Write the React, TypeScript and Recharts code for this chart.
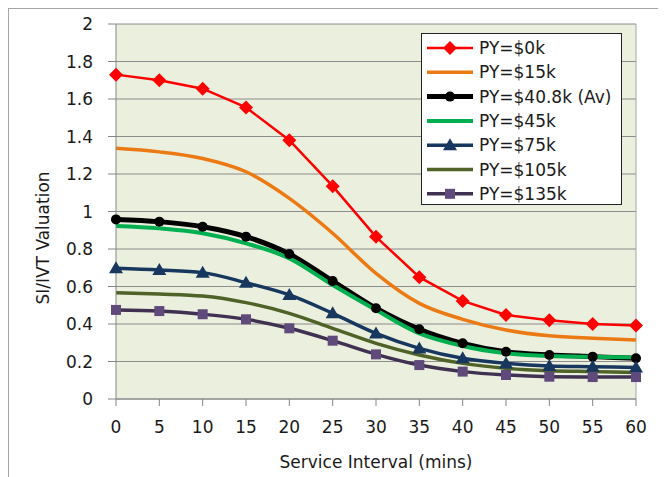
import React from 'react';
import { LineChart, Line, XAxis, YAxis, CartesianGrid, Legend, ReferenceLine, Label } from 'recharts';

const INTERVALS = [0, 5, 10, 15, 20, 25, 30, 35, 40, 45, 50, 55, 60];
const Y_TICKS = [0, 0.2, 0.4, 0.6, 0.8, 1, 1.2, 1.4, 1.6, 1.8, 2];

const py0 = [1.73, 1.70, 1.655, 1.555, 1.38, 1.135, 0.865, 0.65, 0.523, 0.448, 0.42, 0.40, 0.392];
const py15 = [1.337, 1.318, 1.283, 1.212, 1.07, 0.884, 0.67, 0.51, 0.425, 0.368, 0.337, 0.324, 0.315];
const py408 = [0.958, 0.946, 0.919, 0.866, 0.773, 0.629, 0.484, 0.372, 0.297, 0.252, 0.235, 0.226, 0.217];
const py45 = [0.923, 0.91, 0.884, 0.83, 0.75, 0.608, 0.475, 0.35, 0.283, 0.244, 0.229, 0.225, 0.222];
const py75 = [0.697, 0.688, 0.674, 0.62, 0.555, 0.457, 0.35, 0.27, 0.217, 0.19, 0.176, 0.172, 0.168];
const py105 = [0.567, 0.56, 0.549, 0.514, 0.457, 0.377, 0.297, 0.235, 0.19, 0.164, 0.151, 0.146, 0.141];
const py135 = [0.475, 0.469, 0.452, 0.425, 0.377, 0.311, 0.238, 0.181, 0.146, 0.128, 0.119, 0.117, 0.117];

const SERIES_NAMES = ['PY=$0k', 'PY=$15k', 'PY=$40.8k (Av)', 'PY=$45k', 'PY=$75k', 'PY=$105k', 'PY=$135k'];
const SERIES_VALUES = [py0, py15, py408, py45, py75, py105, py135];

type Marker = 'diamond' | 'none' | 'circle' | 'triangle' | 'square';
const STYLES: { color: string; width: number; marker: Marker; markerFill: string; curve: 'linear' | 'monotone' }[] = [
  { color: '#ff0000', width: 2.5, marker: 'diamond', markerFill: '#ff0000', curve: 'linear' },
  { color: '#ec7a14', width: 3.5, marker: 'none', markerFill: '#ec7a14', curve: 'monotone' },
  { color: '#000000', width: 5, marker: 'circle', markerFill: '#000000', curve: 'monotone' },
  { color: '#00b050', width: 4, marker: 'none', markerFill: '#00b050', curve: 'monotone' },
  { color: '#17375e', width: 3.5, marker: 'triangle', markerFill: '#17375e', curve: 'monotone' },
  { color: '#4f6228', width: 3.5, marker: 'none', markerFill: '#4f6228', curve: 'monotone' },
  { color: '#403152', width: 3.5, marker: 'square', markerFill: '#604a7b', curve: 'monotone' },
];

const data = INTERVALS.map((x, i) => {
  const row: Record<string, number> = { x };
  SERIES_VALUES.forEach((vals, s) => {
    row['s' + s] = vals[i];
  });
  return row;
});

const FONT = 'DejaVu Sans';
const FS = 17;
const TXT = '#1a1a1a';

function markerShape(marker: Marker, cx: number, cy: number, fill: string, key?: any) {
  switch (marker) {
    case 'diamond':
      return <path key={key} d={`M${cx},${cy - 7} L${cx + 7},${cy} L${cx},${cy + 7} L${cx - 7},${cy} Z`} fill={fill} />;
    case 'circle':
      return <circle key={key} cx={cx} cy={cy} r={5} fill={fill} />;
    case 'triangle':
      return <path key={key} d={`M${cx},${cy - 7} L${cx + 7},${cy + 5} L${cx - 7},${cy + 5} Z`} fill={fill} />;
    case 'square':
      return <rect key={key} x={cx - 5} y={cy - 5} width={10} height={10} fill={fill} />;
    default:
      return null;
  }
}

const makeDot = (marker: Marker, fill: string) => (p: any) => {
  if (marker === 'none' || p.cx == null || p.cy == null) return <g key={p.index} />;
  return markerShape(marker, p.cx, p.cy, fill, p.index);
};

const LegendBox = () => (
  <div
    style={{
      width: 199,
      height: 170,
      border: '1px solid #222',
      background: '#ffffff',
      boxSizing: 'content-box',
      position: 'relative',
    }}
  >
    <svg width={199} height={170} style={{ position: 'absolute', left: 0, top: 0 }}>
      {SERIES_NAMES.map((name, i) => {
        const st = STYLES[i];
        const cy = 14 + i * 24.3;
        return (
          <g key={name}>
            <line x1={5} x2={51} y1={cy} y2={cy} stroke={st.color} strokeWidth={st.width} />
            {markerShape(st.marker, 28, cy, st.markerFill)}
            <text x={57} y={cy} dominantBaseline="central" fontFamily={FONT} fontSize={FS} fill={TXT}>
              {name}
            </text>
          </g>
        );
      })}
    </svg>
  </div>
);

export default function App() {
  return (
    <div style={{ position: 'relative', width: 658, height: 469 }}>
      <style>{'html,body{overflow:hidden}'}</style>
      <div
        style={{
          position: 'absolute',
          left: 0,
          top: 0,
          width: 700,
          height: 500,
          borderTop: '1px solid #a6a6a6',
          borderLeft: '1px solid #a6a6a6',
          pointerEvents: 'none',
        }}
      />
      <LineChart width={658} height={469} data={data} margin={{ top: 16, right: 30, bottom: 18, left: 0 }}>
        <CartesianGrid vertical={false} stroke="#8c8c8c" fill="#ebefde" fillOpacity={1} />
        <XAxis
          dataKey="x"
          type="number"
          domain={[0, 60]}
          ticks={INTERVALS}
          interval={0}
          height={60}
          tickSize={7}
          tickMargin={15}
          stroke="#868686"
          tick={{ fontFamily: FONT, fontSize: FS, fill: TXT }}
        >
          <Label
            content={() => (
              <text x={368} y={454} textAnchor="middle" dominantBaseline="central" fontFamily={FONT} fontSize={FS} fill={TXT}>
                Service Interval (mins)
              </text>
            )}
          />
        </XAxis>
        <YAxis
          type="number"
          domain={[0, 2]}
          ticks={Y_TICKS}
          interval={0}
          width={108}
          tickSize={8}
          tickMargin={15}
          stroke="#868686"
          tick={{ fontFamily: FONT, fontSize: FS, fill: TXT }}
        >
          <Label
            content={() => (
              <text
                x={35}
                y={230}
                transform="rotate(-90 35 230)"
                textAnchor="middle"
                dominantBaseline="central"
                fontFamily={FONT}
                fontSize={FS}
                fill={TXT}
              >
                SI/IVT Valuation
              </text>
            )}
          />
        </YAxis>
        <ReferenceLine x={60} stroke="#a6a6a6" strokeWidth={1} />
        {SERIES_NAMES.map((name, i) => (
          <Line
            key={name}
            name={name}
            dataKey={'s' + i}
            type={STYLES[i].curve}
            stroke={STYLES[i].color}
            strokeWidth={STYLES[i].width}
            dot={makeDot(STYLES[i].marker, STYLES[i].markerFill)}
            activeDot={false}
            isAnimationActive={false}
          />
        ))}
        <Legend
          layout="vertical"
          align="center"
          verticalAlign="middle"
          content={() => <LegendBox />}
          wrapperStyle={{ left: 413, top: 25, width: 201, height: 172 }}
        />
      </LineChart>
    </div>
  );
}
